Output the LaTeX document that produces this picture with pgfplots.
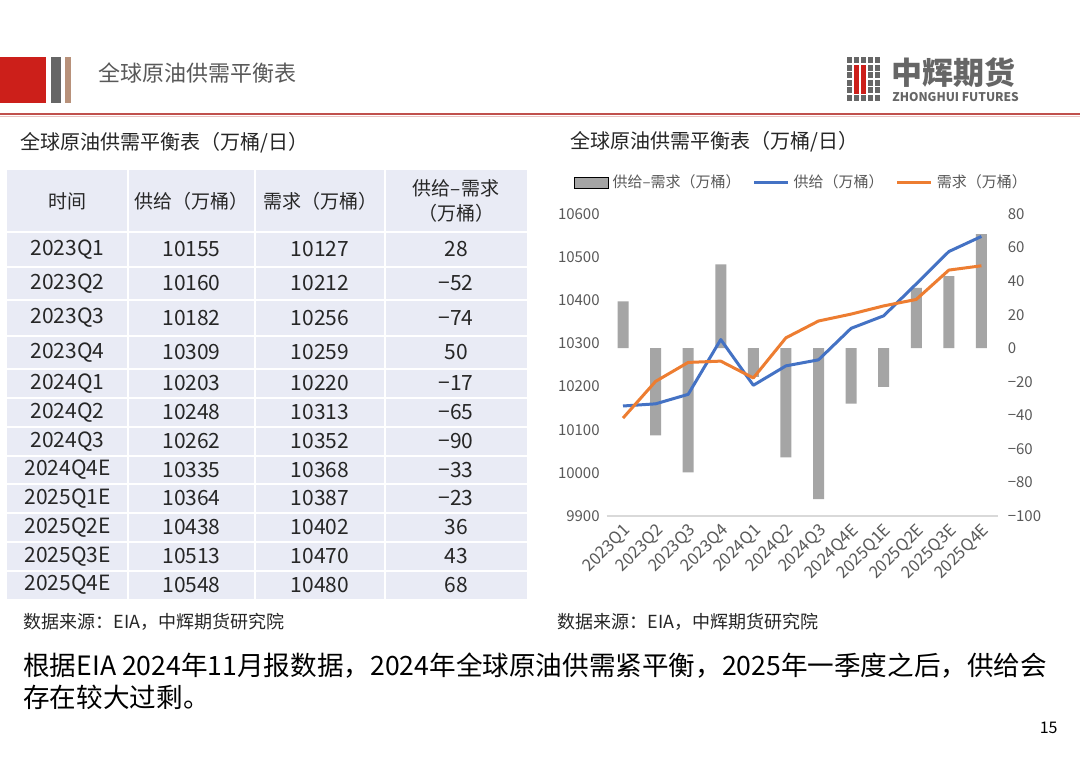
\documentclass[border=0pt]{standalone}
\usepackage{fontspec}
\setmainfont{Noto Sans CJK SC}
\usepackage{pgfplots}
\pgfplotsset{compat=1.18}
\definecolor{hdrred}{HTML}{CC1F1A}
\definecolor{hdrgray}{HTML}{666666}
\definecolor{hdrtan}{HTML}{B8917A}
\definecolor{txtgray}{HTML}{595959}
\definecolor{tblbg}{HTML}{E9EBF5}
\definecolor{linered}{HTML}{C0504D}
\definecolor{barg}{HTML}{A5A5A5}
\definecolor{sblue}{HTML}{4472C4}
\definecolor{dorange}{HTML}{ED7D31}
\definecolor{gridg}{HTML}{D9D9D9}
\definecolor{txtdark}{HTML}{262626}
\begin{document}
\begin{tikzpicture}
\begin{scope}[x=0.5pt,y=-0.5pt]
\path[use as bounding box, fill=white] (0,0) rectangle (1080,756);
% header
\fill[hdrred] (0,57) rectangle (46,103);
\fill[hdrgray] (51,57) rectangle (61,103);
\fill[hdrtan] (65,57) rectangle (71,103);
\node[anchor=west, text=txtgray, font=\fontsize{11}{13}\selectfont, inner sep=0] at (98,73) {全球原油供需平衡表};
\draw[linered, line width=1pt] (0,114) -- (1080,114);
\draw[linered!35, line width=0.6pt] (0,116.5) -- (1080,116.5);
% logo
\foreach \c in {0,...,4}{\foreach \r in {0,...,5}{\fill[hdrgray] ({846.7+\c*7},{57+\r*7.5}) rectangle ++(5.5,6);}}
\fill[white] (853.2,64) rectangle (866.7,94);
\fill[hdrred] (854,64.5) rectangle (859.4,93.5);
\fill[hdrred] (860.6,64.5) rectangle (866,93.5);
\node[anchor=west, inner sep=0, text=hdrgray, font=\fontsize{15.5}{16}\selectfont\bfseries] at (891,73) {中辉期货};
\node[anchor=west, inner sep=0, text=hdrgray, font=\fontsize{6}{7}\selectfont\bfseries] at (892,97.5) {ZHONGHUI FUTURES};
% table title
\node[anchor=west, inner sep=0, font=\fontsize{10}{12}\selectfont, text=txtdark] at (20,143) {全球原油供需平衡表（万桶/日）};
% table
\fill[tblbg] (7,170) rectangle (527,599);
\foreach \y in {232,267,300,336,369,398,427,456,484,513,542,571} \draw[white, line width=1pt] (7,\y) -- (527,\y);
\foreach \x in {128,255,385} \draw[white, line width=1pt] (\x,170) -- (\x,599);
\begin{scope}[every node/.style={inner sep=0, text=txtdark, font=\fontsize{9.5}{11}\selectfont}]
\node at (67.5,201) {时间};
\node at (191.5,201) {供给（万桶）};
\node at (320,201) {需求（万桶）};
\node at (456,188) {供给–需求};
\node at (456,213) {（万桶）};
\end{scope}
\begin{scope}[every node/.style={inner sep=0, text=txtdark, font=\fontsize{10.5}{12}\selectfont}]
\foreach \yc/\a/\b/\c/\d in {249.5/2023Q1/10155/10127/28, 283.5/2023Q2/10160/10212/−52, 318/2023Q3/10182/10256/−74, 352.5/2023Q4/10309/10259/50, 383.5/2024Q1/10203/10220/−17, 412.5/2024Q2/10248/10313/−65, 441.5/2024Q3/10262/10352/−90, 470/2024Q4E/10335/10368/−33, 498.5/2025Q1E/10364/10387/−23, 527.5/2025Q2E/10438/10402/36, 556.5/2025Q3E/10513/10470/43, 585/2025Q4E/10548/10480/68}{
\node at (67.5,\yc) {\a};
\node at (191.5,\yc) {\b};
\node at (320,\yc) {\c};
\node at (456,\yc) {\d};
}
\end{scope}
% chart title
\node[anchor=west, inner sep=0, font=\fontsize{10}{12}\selectfont, text=txtdark] at (570,142) {全球原油供需平衡表（万桶/日）};
% sources
\node[anchor=west, inner sep=0, font=\fontsize{9}{11}\selectfont, text=txtdark] at (23,622) {数据来源：EIA，中辉期货研究院};
\node[anchor=west, inner sep=0, font=\fontsize{9}{11}\selectfont, text=txtdark] at (557,622) {数据来源：EIA，中辉期货研究院};
% body
\node[anchor=west, inner sep=0, font=\fontsize{13.3}{15}\selectfont, text=black] at (23,666) {根据EIA 2024年11月报数据，2024年全球原油供需紧平衡，2025年一季度之后，供给会};
\node[anchor=west, inner sep=0, font=\fontsize{13.3}{15}\selectfont, text=black] at (23,697) {存在较大过剩。};
\node[anchor=east, inner sep=0, font=\fontsize{8}{10}\selectfont, text=black] at (1058,728) {15};
\end{scope}

% bars on right axis
\begin{axis}[at={(303.35pt,-258pt)}, anchor=south west, scale only axis,
  width=195.5pt, height=151pt, xmin=-0.5, xmax=11.5, ymin=-100, ymax=80,
  hide x axis, axis y line*=right, y axis line style={draw=none},
  ytick={-100,-80,...,80}, yticklabels={−100,−80,−60,−40,−20,0,20,40,60,80},
  ytick style={draw=none},
  yticklabel style={font=\fontsize{7.5}{9}\selectfont, text=txtgray, anchor=west, xshift=1.5pt}]
\addplot[ybar, bar width=5.5pt, fill=barg, draw=none] coordinates {
(0,28) (1,-52) (2,-74) (3,50) (4,-17) (5,-65) (6,-90) (7,-33) (8,-23) (9,36) (10,43) (11,68)};
\end{axis}

% lines on left axis
\begin{axis}[at={(303.35pt,-258pt)}, anchor=south west, scale only axis,
  width=195.5pt, height=151pt, xmin=-0.5, xmax=11.5, ymin=9900, ymax=10600,
  scaled y ticks=false,
  axis y line*=left, y axis line style={draw=none},
  axis x line*=bottom, x axis line style={draw=gridg, line width=0.6pt, -},
  ytick={9900,10000,...,10600}, yticklabels={9900,10000,10100,10200,10300,10400,10500,10600},
  xtick={0,...,11},
  xticklabels={2023Q1,2023Q2,2023Q3,2023Q4,2024Q1,2024Q2,2024Q3,2024Q4E,2025Q1E,2025Q2E,2025Q3E,2025Q4E},
  tick style={draw=none},
  yticklabel style={font=\fontsize{7.5}{9}\selectfont, text=txtgray},
  xticklabel style={font=\fontsize{8.3}{9}\selectfont, text=txtgray, rotate=45, anchor=east, yshift=-6pt, xshift=1pt},
  legend columns=3,
  legend style={at={(0.5,1.103)}, anchor=center, draw=none, fill=none,
    font=\fontsize{7.5}{9}\selectfont, text=txtgray,
    /tikz/every even column/.append style={column sep=4pt}},
  legend cell align=left]
\addlegendimage{area legend, fill=barg, draw=none}
\addlegendentry{供给–需求（万桶）}
\addplot[sblue, line width=1.5pt, line join=round] coordinates {
(0,10155) (1,10160) (2,10182) (3,10309) (4,10203) (5,10248) (6,10262) (7,10335) (8,10364) (9,10438) (10,10513) (11,10548)};
\addlegendentry{供给（万桶）}
\addplot[dorange, line width=1.5pt, line join=round] coordinates {
(0,10127) (1,10212) (2,10256) (3,10259) (4,10220) (5,10313) (6,10352) (7,10368) (8,10387) (9,10402) (10,10470) (11,10480)};
\addlegendentry{需求（万桶）}
\end{axis}
\end{tikzpicture}
\end{document}
